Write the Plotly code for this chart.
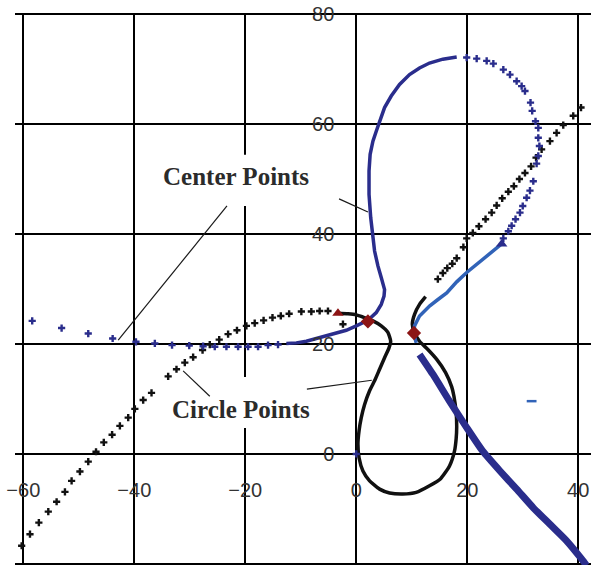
import plotly.graph_objects as go

# ---- axis ticks ----
x_ticks = [-60, -40, -20, 0, 20, 40]
y_ticks = [-20, 0, 20, 40, 60, 80]

# ---- circle-point curve (black) ----
circle_arc_x = [-60.3, -58.8, -57.2, -55.5, -54.0, -52.5, -51.3, -49.8, -48.3, -46.9,
                -45.5, -44.0, -42.6, -41.1, -39.9, -38.4, -36.9, -33.9, -32.4, -30.9,
                -29.4, -27.7, -26.4, -24.7, -23.1, -21.5, -19.8, -18.3, -16.7, -15.1,
                -13.6, -12.1, -9.9, -8.1, -6.6, -5.1, -2.4]
circle_arc_y = [-16.7, -14.6, -12.5, -10.5, -8.7, -6.9, -4.9, -3.2, -1.4, 0.4,
                2.1, 3.5, 5.1, 6.6, 8.2, 9.8, 11.1, 14.1, 15.4, 16.6,
                17.6, 18.9, 19.9, 20.8, 21.8, 22.5, 23.3, 23.8, 24.3, 24.8,
                25.1, 25.5, 25.9, 25.9, 26.0, 26.0, 23.6]

circle_loop_x = [-3.3, -1.5, 0.0, 1.2, 3.0, 4.5, 5.7, 6.2, 5.9, 5.1, 4.2, 3.3, 2.4,
                 1.5, 0.9, 0.5, 0.3, 0.5, 1.2, 2.4, 4.2, 6.0, 8.4, 10.8, 13.2, 15.2,
                 16.8, 17.7, 18.0, 18.1, 18.0, 17.6, 17.2, 16.1, 14.5, 12.9, 11.4,
                 10.5, 10.1, 10.5, 11.4, 12.5]
circle_loop_y = [25.6, 25.5, 25.3, 24.9, 24.2, 23.3, 22.1, 20.5, 19.3, 17.5, 15.4, 13.3, 11.5,
                 9.0, 6.6, 4.2, 1.8, -0.7, -3.1, -4.9, -6.4, -7.1, -7.3, -7.0, -5.8, -4.5,
                 -2.2, 0.5, 2.8, 5.0, 7.5, 10.5, 12.2, 14.8, 17.2, 19.0, 20.5,
                 22.0, 23.6, 25.4, 27.2, 28.6]

circle_line_x = [14.7, 15.6, 16.4, 17.3, 18.1, 19.3, 19.9, 21.0, 22.1, 23.3, 24.4, 25.3,
                 26.3, 27.4, 28.4, 29.4, 30.4, 31.5, 32.4, 33.4, 34.9, 36.1, 37.3, 39.1, 40.5]
circle_line_y = [31.8, 32.9, 33.8, 34.6, 35.6, 37.6, 39.2, 40.2, 41.4, 42.7, 43.9, 45.2,
                 46.5, 47.7, 48.7, 50.0, 51.1, 52.3, 53.9, 55.4, 56.9, 58.4, 59.8, 61.5, 63.0]

# ---- center-point curve (blue) ----
center_tail_x = [-58.4, -53.1, -48.3, -43.9, -39.7, -36.3, -33.2, -30.1, -27.6, -25.5,
                 -23.4, -21.3, -19.5, -17.7, -15.9, -14.1, 0.0]
center_tail_y = [24.2, 22.9, 21.9, 21.0, 20.4, 20.1, 19.8, 19.7, 19.6, 19.5,
                 19.5, 19.5, 19.5, 19.5, 19.8, 19.9, 0.0]

center_loop_x = [-12.6, -10.8, -9.0, -7.2, -5.4, -3.6, -1.8, 0.0, 2.1, 3.6, 4.5, 5.0, 5.1,
                 4.5, 3.9, 3.3, 2.9, 2.6, 2.3, 2.3, 2.5, 3.0, 3.6, 4.2, 5.1, 6.3, 7.8,
                 9.6, 11.4, 13.2, 15.6, 18.1]
center_loop_y = [20.1, 20.2, 20.5, 21.0, 21.5, 21.9, 22.5, 23.3, 24.3, 25.7, 27.2, 28.7, 29.9,
                 32.1, 34.2, 36.9, 39.9, 43.0, 47.2, 51.5, 54.5, 56.9, 58.7, 60.5, 63.0, 65.1, 67.2,
                 69.0, 70.2, 71.1, 71.8, 72.2]

center_arc_x = [19.9, 21.7, 23.5, 24.7, 26.5, 27.7, 28.9, 29.8, 30.4, 31.4, 31.7, 32.3, 32.8,
                32.8, 33.0, 32.8, 32.5, 31.9, 31.3, 30.7, 30.0, 29.5, 28.7, 28.0, 27.4, 26.5]
center_arc_y = [72.1, 71.9, 71.5, 71.0, 69.9, 69.0, 67.8, 66.9, 66.0, 63.9, 62.4, 60.5, 59.3,
                57.5, 56.0, 54.2, 52.8, 49.6, 47.9, 46.6, 45.1, 43.9, 42.7, 41.5, 40.5, 39.2]

center_link_x = [26.2, 24.6, 22.3, 19.9, 18.1, 16.3, 14.6, 13.2, 11.4, 10.5, 10.4, 10.8]
center_link_y = [38.2, 36.9, 35.1, 33.0, 31.3, 29.3, 28.0, 26.9, 25.1, 23.3, 21.8, 20.2]

center_branch_x = [11.4, 13.8, 16.8, 19.9, 22.8, 25.9, 28.9, 31.9, 34.9, 37.9, 40.6, 41.5]
center_branch_y = [18.1, 14.5, 9.6, 4.8, 0.5, -3.1, -6.4, -9.8, -12.8, -15.8, -19.1, -20.3]

center_stray_x = [31.6]
center_stray_y = [9.6]

# ---- precision points ----
tri_x, tri_y = [-3.3], [25.6]
dia_x, dia_y = [2.1, 10.4], [24.1, 22.0]
blue_tri_x, blue_tri_y = [26.2], [38.2]

BLACK = "#111111"
NAVY = "#2a2d8c"
LIGHT_BLUE = "#3163b8"
RED = "#8c1515"

fig = go.Figure()

fig.add_trace(go.Scatter(x=circle_arc_x, y=circle_arc_y, mode="markers",
                         marker=dict(symbol="cross", size=6, color=BLACK, line=dict(width=0))))
fig.add_trace(go.Scatter(x=circle_loop_x, y=circle_loop_y, mode="lines",
                         line=dict(color=BLACK, width=3.5, shape="spline", smoothing=0.5)))
fig.add_trace(go.Scatter(x=circle_line_x, y=circle_line_y, mode="markers",
                         marker=dict(symbol="cross", size=6, color=BLACK, line=dict(width=0))))

fig.add_trace(go.Scatter(x=center_tail_x, y=center_tail_y, mode="markers",
                         marker=dict(symbol="cross", size=6, color=NAVY, line=dict(width=0))))
fig.add_trace(go.Scatter(x=center_loop_x, y=center_loop_y, mode="lines",
                         line=dict(color=NAVY, width=3.5)))
fig.add_trace(go.Scatter(x=center_arc_x, y=center_arc_y, mode="markers",
                         marker=dict(symbol="cross", size=6, color=NAVY, line=dict(width=0))))
fig.add_trace(go.Scatter(x=center_link_x, y=center_link_y, mode="lines",
                         line=dict(color=LIGHT_BLUE, width=3.5)))
fig.add_trace(go.Scatter(x=center_branch_x, y=center_branch_y, mode="lines",
                         line=dict(color=NAVY, width=7, shape="spline", smoothing=0.5)))
fig.add_trace(go.Scatter(x=center_stray_x, y=center_stray_y, mode="markers",
                         marker=dict(symbol="line-ew", size=7,
                                     line=dict(color=LIGHT_BLUE, width=2.5))))

fig.add_trace(go.Scatter(x=blue_tri_x, y=blue_tri_y, mode="markers",
                         marker=dict(symbol="triangle-up", size=10, color=NAVY)))
fig.add_trace(go.Scatter(x=tri_x, y=tri_y, mode="markers",
                         marker=dict(symbol="triangle-up", size=10, color=RED)))
fig.add_trace(go.Scatter(x=dia_x, y=dia_y, mode="markers",
                         marker=dict(symbol="diamond", size=11, color=RED)))

# white panels behind the two labels (they interrupt the grid)
label_boxes = [(-36.8, 45.1, -6.4, 54.4), (-35.0, 4.7, -6.5, 14.0)]
for x0, y0, x1, y1 in label_boxes:
    fig.add_shape(type="rect", xref="x", yref="y", x0=x0, y0=y0, x1=x1, y1=y1,
                  fillcolor="white", line=dict(width=0), layer="between")

# leader lines from the labels to the curves
leaders = [
    (-23.3, 45.1, -42.9, 20.7),
    (-3.1, 46.4, 2.1, 44.0),
    (-31.2, 15.1, -26.4, 10.5),
    (-8.9, 11.8, 2.8, 13.4),
]
for x0, y0, x1, y1 in leaders:
    fig.add_shape(type="line", xref="x", yref="y", x0=x0, y0=y0, x1=x1, y1=y1,
                  line=dict(color="#1a1a1a", width=1.2))

label_font = dict(family="Liberation Serif, Times New Roman, serif", size=25, color="#2b2b2b")
fig.add_annotation(x=-21.6, y=50.4, xref="x", yref="y", text="<b>Center Points</b>",
                   showarrow=False, font=label_font)
fig.add_annotation(x=-20.7, y=8.0, xref="x", yref="y", text="<b>Circle Points</b>",
                   showarrow=False, font=label_font)

tick_font = dict(family="Liberation Sans, Arial, sans-serif", size=20, color="#333333")
x_range = [-61.5, 42.3]
y_range = [-20.2, 80.2]

fig.update_layout(
    width=592, height=569,
    margin=dict(l=15, r=1, t=13, b=4),
    paper_bgcolor="white", plot_bgcolor="white",
    showlegend=False,
    xaxis=dict(range=x_range, tickvals=x_ticks, showgrid=True, gridcolor="black",
               gridwidth=2, zeroline=False, showline=False, ticks="",
               anchor="free", position=(0 - y_range[0]) / (y_range[1] - y_range[0]),
               tickfont=tick_font, ticklabelstandoff=22),
    yaxis=dict(range=y_range, tickvals=y_ticks, showgrid=True, gridcolor="black",
               gridwidth=2, zeroline=False, showline=False, ticks="",
               anchor="free", position=(0 - x_range[0]) / (x_range[1] - x_range[0]),
               tickfont=tick_font, ticklabelstandoff=22),
)

fig.write_html("out.html")
